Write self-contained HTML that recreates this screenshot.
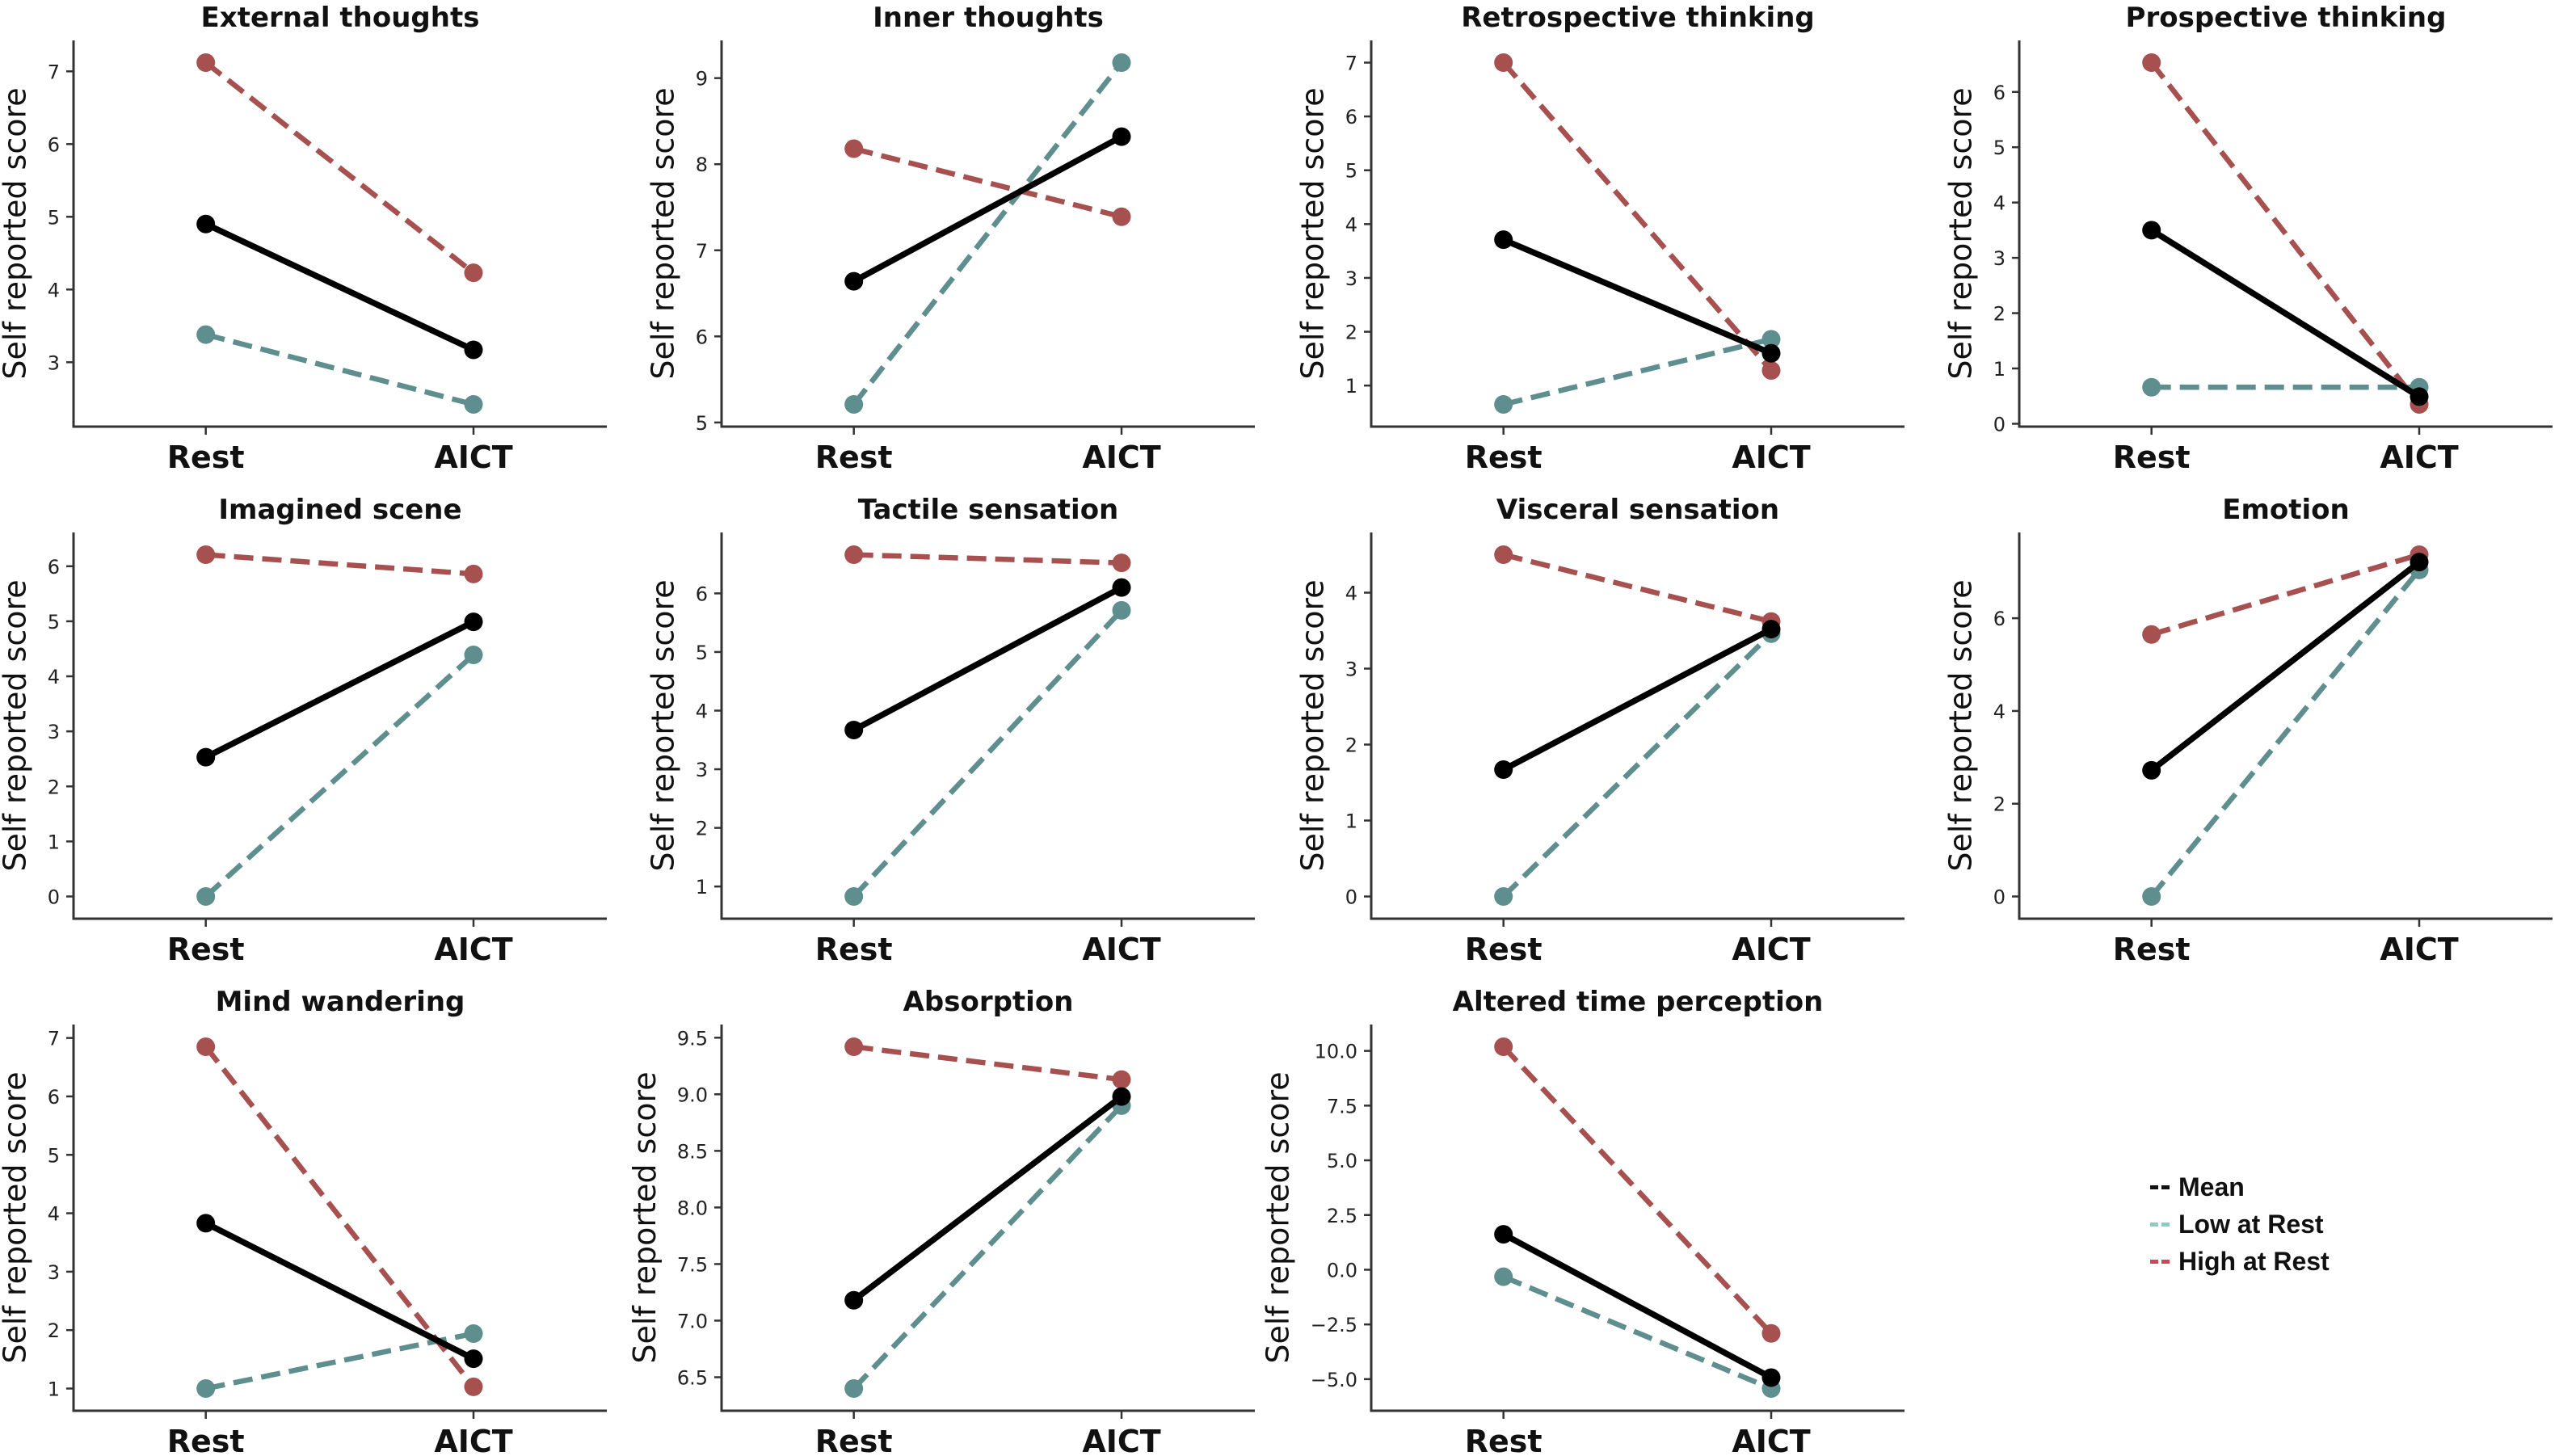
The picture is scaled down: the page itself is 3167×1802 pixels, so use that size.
<!DOCTYPE html>
<html><head><meta charset="utf-8"><style>
html,body{margin:0;padding:0;background:#fff;}
svg{display:block;}
</style></head><body>
<svg id="fig" width="3167" height="1802" viewBox="0 0 3167 1802" xmlns="http://www.w3.org/2000/svg" font-family="'DejaVu Sans', 'Liberation Sans', sans-serif"></svg>
<script>
const titles = ["External thoughts","Inner thoughts","Retrospective thinking","Prospective thinking","Imagined scene","Tactile sensation","Visceral sensation","Emotion","Mind wandering","Absorption","Altered time perception"];
const conditions = ["Rest","AICT"];
const meanRest = [4.90,6.64,3.71,3.50,2.53,3.67,1.67,2.72,3.83,7.18,1.62];
const meanAict = [3.17,8.32,1.60,0.49,4.99,6.10,3.52,7.21,1.51,8.98,-4.93];
const lowRest  = [3.38,5.21,0.65,0.66,0.00,0.83,0.00,0.00,1.00,6.40,-0.32];
const lowAict  = [2.42,9.18,1.86,0.66,4.39,5.71,3.46,7.04,1.94,8.90,-5.43];
const highRest = [7.12,8.18,7.00,6.53,6.21,6.66,4.50,5.65,6.85,9.42,10.19];
const highAict = [4.23,7.39,1.28,0.35,5.86,6.52,3.62,7.37,1.03,9.13,-2.91];
const tickSets = [[3,4,5,6,7],[5,6,7,8,9],[1,2,3,4,5,6,7],[0,1,2,3,4,5,6],[0,1,2,3,4,5,6],[1,2,3,4,5,6],[0,1,2,3,4],[0,2,4,6],[1,2,3,4,5,6,7],[6.5,7.0,7.5,8.0,8.5,9.0,9.5],[-5.0,-2.5,0.0,2.5,5.0,7.5,10.0]];
const tickDecimals = [0,0,0,0,0,0,0,0,0,1,1];

const NS = "http://www.w3.org/2000/svg";
const svg = document.getElementById('fig');
function mk(tag, attrs, parent){
  const e = document.createElementNS(NS, tag);
  for (const k in attrs) e.setAttribute(k, attrs[k]);
  (parent||svg).appendChild(e);
  return e;
}
const colLeft = [91, 893, 1697, 2499];
const rowTop = [50, 659, 1268];
const W = 660, H = 478;
const RED = "#a65050", TEAL = "#5f8e8f";

for (let i = 0; i < titles.length; i++) {
  const c = i % 4, r = Math.floor(i / 4);
  const x0 = colLeft[c], y0 = rowTop[r], y1 = y0 + H;
  const all = [meanRest[i],meanAict[i],lowRest[i],lowAict[i],highRest[i],highAict[i]];
  const mn = Math.min(...all), mx = Math.max(...all), pad = (mx - mn) * 0.065;
  const lo = mn - pad, hi = mx + pad;
  const yS = v => y1 - (v - lo) / (hi - lo) * H;
  const xS = k => x0 + W * (0.248 + 0.502 * k);
  const g = mk('g', {});
  
  

  const t = mk('text', {x: x0 + W/2, y: y0 - 17, 'text-anchor':'middle', 'font-size':34, 'font-weight':'bold', fill:'#111'}, g);
  t.textContent = titles[i];
  
  

  let maxW = 0;
  tickSets[i].forEach(v => {
    const yy = yS(v);
    const tk = mk('line', {x1: x0-9, x2: x0, y1: yy, y2: yy, stroke:'#333', 'stroke-width':2.5}, g);
    
    
    const tl = mk('text', {x: x0-17, y: yy+9, 'text-anchor':'end', 'font-size':24, fill:'#222'}, g);
    tl.textContent = v.toFixed(tickDecimals[i]).replace('-', '\u2212');
    
    
    maxW = Math.max(maxW, tl.getComputedTextLength());
  });

  const yl = mk('text', {x: 0, y: 0, transform: `translate(${x0-17-maxW-27},${y0+H/2}) rotate(-90)`, 'text-anchor':'middle', 'font-size':38, fill:'#111'}, g);
  yl.textContent = 'Self reported score';
  
  

  conditions.forEach((cn, k) => {
    const xx = xS(k);
    const tk = mk('line', {x1: xx, x2: xx, y1: y1, y2: y1+10, stroke:'#333', 'stroke-width':2.5}, g);
    
    
    const tl = mk('text', {x: xx, y: y1+51, 'text-anchor':'middle', 'font-size':38, 'font-weight':'bold', fill:'#111'}, g);
    tl.textContent = cn;
    
    
  });
  const ya = mk('line', {x1:x0, x2:x0, y1:y0, y2:y1+1.5, stroke:'#333', 'stroke-width':3}, g);
  
  
  const xa = mk('line', {x1:x0-1.5, x2:x0+W, y1:y1, y2:y1, stroke:'#333', 'stroke-width':3}, g);
  
  

  const series = [
    ['low-at-rest', lowRest[i], lowAict[i], TEAL, '24 11', 6.5],
    ['high-at-rest', highRest[i], highAict[i], RED, '24 11', 6.5],
    ['mean', meanRest[i], meanAict[i], '#000', null, 7.5]
  ];
  series.forEach(s => {
    const ln = mk('line', {x1:xS(0), y1:yS(s[1]), x2:xS(1), y2:yS(s[2]), stroke:s[3], 'stroke-width':s[5]}, g);
    if (s[4]) ln.setAttribute('stroke-dasharray', s[4]);
    
    
    [s[1], s[2]].forEach((v, k) => {
      const p = mk('circle', {cx:xS(k), cy:yS(v), r:11.5, fill:s[3]}, g);
      
      
    });
  });
}

const legendLabels = ["Mean","Low at Rest","High at Rest"];
const legendColors = ["#111","#8ccac4","#d0455a"];
const lg = mk('g', {});


legendLabels.forEach((lab, k) => {
  const yy = 1469 + k * 46;
  const e = mk('g', {}, lg);
  
  
  mk('rect', {x:2661, y:yy-2, width:10, height:5, fill:legendColors[k]}, e);
  mk('rect', {x:2675, y:yy-2, width:10, height:5, fill:legendColors[k]}, e);
  const tx = mk('text', {x:2696, y:yy+11, 'font-size':32, 'font-weight':'bold', fill:'#111', 'font-family':"'Liberation Sans', sans-serif"}, e);
  tx.textContent = lab;
});
</script>
</body></html>
